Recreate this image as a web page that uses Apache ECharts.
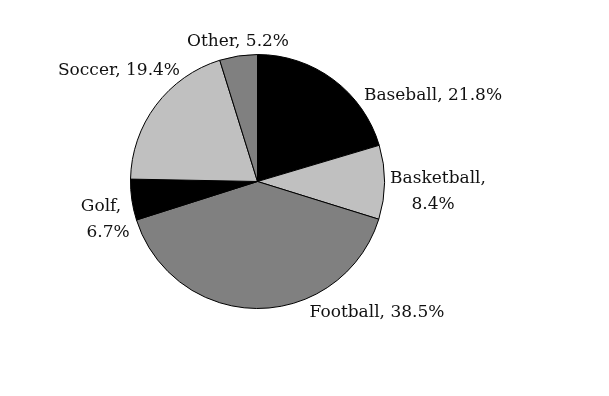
<!DOCTYPE html>
<html>
<head>
<meta charset="utf-8">
<script src="https://cdn.jsdelivr.net/npm/echarts@6/dist/echarts.min.js"></script>
<style>html,body{margin:0;padding:0;background:#fff}#c{width:609px;height:396px}</style>
</head>
<body>
<div id="c"></div>
<script>
const categories = ['Baseball', 'Basketball', 'Football', 'Golf', 'Soccer', 'Other'];
// percentages printed in the labels
const labelPercents = [21.8, 8.4, 38.5, 6.7, 19.4, 5.2];
const sliceShares = [20.4, 9.4, 40.3, 5.2, 19.9, 4.8];
const twoLineLabels = ['Basketball', 'Golf'];

const sliceColors = ['#000000', '#c0c0c0', '#808080', '#000000', '#c0c0c0', '#808080'];
// label centres (pixels) for each slice label, in category order
const labelAnchors = [[433, 96], [438, 192], [377, 313], [101, 220], [119, 71], [238, 42]];
// horizontal shift (px) of the second line of two-line labels
const secondLineShift = [0, -5, 0, 7, 0, 0];

const chart = echarts.init(document.getElementById('c'), null, {renderer: 'canvas'});
chart.setOption({
  animation: false,
  backgroundColor: '#ffffff',
  series: [{
    type: 'pie',
    center: [257.5, 181.5],
    radius: 127,
    startAngle: 90,
    clockwise: true,
    avoidLabelOverlap: false,
    data: categories.map((n, i) => ({
      name: n,
      value: sliceShares[i],
      itemStyle: {color: sliceColors[i]}
    })),
    itemStyle: {borderColor: '#000', borderWidth: 1},
    label: {
      show: true,
      position: 'outside',
      fontFamily: 'DejaVu Serif',
      fontSize: 17,
      color: '#111111',
      lineHeight: 26,
      align: 'center',
      formatter: p => {
        const i = p.dataIndex;
        const pct = labelPercents[i].toFixed(1) + '%';
        if (twoLineLabels.includes(p.name)) {
          return '{a|' + p.name + ',}\n{b' + i + '|' + pct + '}';
        }
        return p.name + ', ' + pct;
      },
      rich: Object.fromEntries(
        [['a', {fontFamily: 'DejaVu Serif', fontSize: 17, color: '#111111', lineHeight: 26}]].concat(
          categories.map((c, i) => {
            const s = secondLineShift[i];
            return ['b' + i, {
              fontFamily: 'DejaVu Serif', fontSize: 17, color: '#111111', lineHeight: 26,
              padding: s >= 0 ? [0, 0, 0, 2 * s] : [0, -2 * s, 0, 0]
            }];
          })
        )
      )
    },
    labelLine: {show: false},
    labelLayout: p => ({
      x: labelAnchors[p.dataIndex][0],
      y: labelAnchors[p.dataIndex][1],
      align: 'center',
      verticalAlign: 'middle'
    }),
    emphasis: {disabled: true}
  }]
});
</script>
</body>
</html>
